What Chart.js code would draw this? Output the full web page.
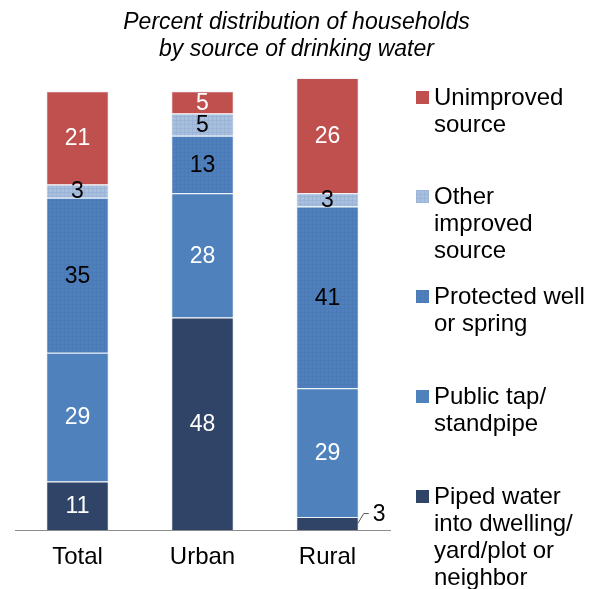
<!DOCTYPE html>
<html>
<head>
<meta charset="utf-8">
<script src="https://cdn.jsdelivr.net/npm/chart.js@4.4.1/dist/chart.umd.min.js"></script>
<style>
  html, body { margin: 0; padding: 0; background: #fff; }
  #wrap { position: relative; width: 593px; height: 589px; font-family: Arial, "Liberation Sans", sans-serif; }
  #chart { position: absolute; left: 0; top: 0; }
  #title {
    position: absolute; left: 0; top: 8px; width: 593px;
    text-align: center; font-style: italic; font-size: 23px; line-height: 27px; color: #000;
  }
  #legend { position: absolute; left: 416px; top: 0; }
  .item { position: absolute; left: 0; white-space: nowrap; font-size: 24px; line-height: 27px; color: #000; }
  .item canvas { position: absolute; left: 0; top: 8px; }
  .item span { display: block; margin-left: 18px; }
</style>
</head>
<body>
<div id="wrap">
  <canvas id="chart" width="593" height="589"></canvas>
  <div id="title">Percent distribution of households<br>by source of drinking water</div>
  <div id="legend"></div>
</div>
<script>
const categories = ['Total', 'Urban', 'Rural'];

// series, bottom of the stack first
const seriesNames = [
    ['Piped water', 'into dwelling/', 'yard/plot or', 'neighbor'],
    ['Public tap/', 'standpipe'],
    ['Protected well', 'or spring'],
    ['Other', 'improved', 'source'],
    ['Unimproved', 'source']
];
const piped       = [11, 48, 3];
const publicTap   = [29, 28, 29];
const protectedWs = [35, 13, 41];
const otherImpr   = [3, 5, 3];
const unimproved  = [21, 5, 26];
const seriesValues = [piped, publicTap, protectedWs, otherImpr, unimproved];

const labelColors = ['#fff', '#fff', '#000', '#000', '#fff'];
// labels drawn beside the bar with a leader line: [category, series]
const calloutLabels = [[2, 0]];

// fill tiles for the textured series
function makeTile(base, dots) {
    const c = document.createElement('canvas');
    c.width = 4; c.height = 4;
    const g = c.getContext('2d');
    g.fillStyle = base;
    g.fillRect(0, 0, 4, 4);
    g.fillStyle = dots;
    g.fillRect(0, 0, 4, 1);
    g.fillRect(0, 0, 1, 4);
    return c;
}
const ctx = document.getElementById('chart').getContext('2d');
const otherTile = makeTile('#a8bfdd', '#9cb5d7');
const protTile = makeTile('#4f80bd', '#4b7bb7');

const fills = [
    '#2f4466',
    '#4f81bd',
    ctx.createPattern(protTile, 'repeat'),
    ctx.createPattern(otherTile, 'repeat'),
    '#c0504d'
];

const valueLabels = {
    id: 'valueLabels',
    afterDatasetsDraw(chart) {
        const c = chart.ctx;
        c.save();
        c.font = '23px Arial, "Liberation Sans", sans-serif';
        c.textBaseline = 'middle';
        chart.data.datasets.forEach((ds, di) => {
            const meta = chart.getDatasetMeta(di);
            meta.data.forEach((bar, i) => {
                const p = bar.getProps(['x', 'y', 'base', 'width'], true);
                const mid = (p.y + p.base) / 2;
                const text = String(ds.data[i]);
                const out = calloutLabels.some(k => k[0] === i && k[1] === di);
                if (out) {
                    const px = p.x + p.width / 2;
                    c.strokeStyle = '#555';
                    c.lineWidth = 1;
                    c.beginPath();
                    c.moveTo(px - 1, mid);
                    c.lineTo(px + 5, mid - 10);
                    c.lineTo(px + 10, mid - 10);
                    c.stroke();
                    c.fillStyle = '#000';
                    c.textAlign = 'left';
                    c.fillText(text, px + 14, mid - 9);
                } else {
                    c.fillStyle = labelColors[di];
                    c.textAlign = 'center';
                    c.fillText(text, p.x, mid + 1);
                }
            });
        });
        c.restore();
    }
};

new Chart(ctx, {
    type: 'bar',
    data: {
        labels: categories,
        datasets: seriesValues.map((vals, k) => ({
            label: seriesNames[k].join(' '),
            data: vals,
            backgroundColor: fills[k],
            borderColor: 'rgba(225,235,248,0.6)',
            borderWidth: 1,
            barPercentage: 0.5,
            categoryPercentage: 1
        }))
    },
    options: {
        responsive: false,
        animation: false,
        layout: { padding: { left: 15, right: 203, top: 78, bottom: 4 } },
        scales: {
            x: {
                stacked: true,
                grid: { display: false, drawTicks: false },
                border: { display: true, color: '#8c8c8c', width: 1 },
                ticks: {
                    color: '#000',
                    padding: 13,
                    font: { family: 'Arial, "Liberation Sans", sans-serif', size: 24 }
                }
            },
            y: {
                stacked: true,
                display: false,
                min: 0,
                max: 102
            }
        },
        plugins: {
            legend: { display: false },
            tooltip: { enabled: false }
        }
    },
    plugins: [valueLabels]
});

// legend, top entry is the top of the stack
const legendEl = document.getElementById('legend');
const legendTops = [83, 182, 282, 382, 482];
for (let n = 0; n < seriesNames.length; n++) {
    const k = seriesNames.length - 1 - n;
    const item = document.createElement('div');
    item.className = 'item';
    item.style.top = legendTops[n] + 'px';
    const box = document.createElement('canvas');
    box.width = 13; box.height = 13;
    const bg = box.getContext('2d');
    bg.fillStyle = k === 2 ? bg.createPattern(protTile, 'repeat')
                 : k === 3 ? bg.createPattern(otherTile, 'repeat') : fills[k];
    bg.fillRect(0, 0, 13, 13);
    item.appendChild(box);
    const txt = document.createElement('span');
    txt.innerHTML = seriesNames[k].join('<br>');
    item.appendChild(txt);
    legendEl.appendChild(item);
}
</script>
</body>
</html>
